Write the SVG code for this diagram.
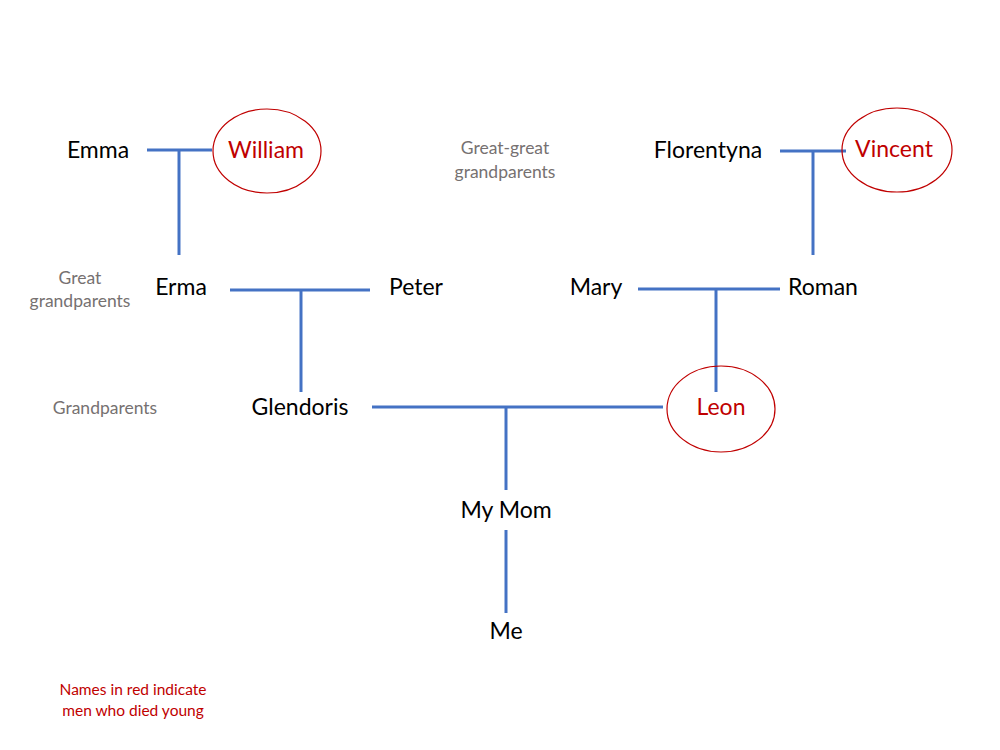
<svg xmlns="http://www.w3.org/2000/svg" width="1000" height="750" viewBox="0 0 1000 750">
<style>
text{font-family:Lato,"Open Sans","Liberation Sans",sans-serif;text-anchor:middle;dominant-baseline:central}
.n{font-size:23px;fill:#000}
.r{font-size:23px;fill:#C00000}
.g{font-size:17.5px;fill:#767171}
.l{font-size:15.5px;fill:#C00000}
.c line{stroke:#4472C4;stroke-width:3}
ellipse{fill:none;stroke:#C00000;stroke-width:1.2}
</style>
<rect width="1000" height="750" fill="#fff"/>
<g class="c" id="connectors">
<line x1="147" y1="150" x2="212" y2="150"/>
<line x1="179" y1="150" x2="179" y2="255"/>
<line x1="780" y1="151" x2="846" y2="151"/>
<line x1="813" y1="151" x2="813" y2="255"/>
<line x1="230" y1="290" x2="370" y2="290"/>
<line x1="301" y1="290" x2="301" y2="392"/>
<line x1="638" y1="289" x2="780" y2="289"/>
<line x1="716" y1="289" x2="716" y2="392"/>
<line x1="372" y1="407" x2="663" y2="407"/>
<line x1="506" y1="407" x2="506" y2="490"/>
<line x1="506" y1="530" x2="506" y2="613"/>
</g>
<g id="emma"><text class="n" x="98" y="149">Emma</text></g>
<g id="william"><ellipse cx="267" cy="151" rx="54" ry="42"/><text class="r" x="266" y="149">William</text></g>
<g id="florentyna"><text class="n" x="708" y="149">Florentyna</text></g>
<g id="vincent"><ellipse cx="897" cy="150" rx="55" ry="42"/><text class="r" x="894" y="148">Vincent</text></g>
<g id="erma"><text class="n" x="181" y="286">Erma</text></g>
<g id="peter"><text class="n" x="416" y="286">Peter</text></g>
<g id="mary"><text class="n" x="596" y="286">Mary</text></g>
<g id="roman"><text class="n" x="823" y="286">Roman</text></g>
<g id="glendoris"><text class="n" x="300" y="406">Glendoris</text></g>
<g id="leon"><ellipse cx="721" cy="409" rx="54" ry="43"/><text class="r" x="721" y="406">Leon</text></g>
<g id="mymom"><text class="n" x="506" y="509">My Mom</text></g>
<g id="me"><text class="n" x="506" y="630">Me</text></g>
<g id="labels">
<text class="g" x="505" y="147">Great-great</text>
<text class="g" x="505" y="171">grandparents</text>
<text class="g" x="80" y="277">Great</text>
<text class="g" x="80" y="300">grandparents</text>
<text class="g" x="105" y="407">Grandparents</text>
<text class="l" x="133" y="689">Names in red indicate</text>
<text class="l" x="133" y="710">men who died young</text>
</g>
</svg>
